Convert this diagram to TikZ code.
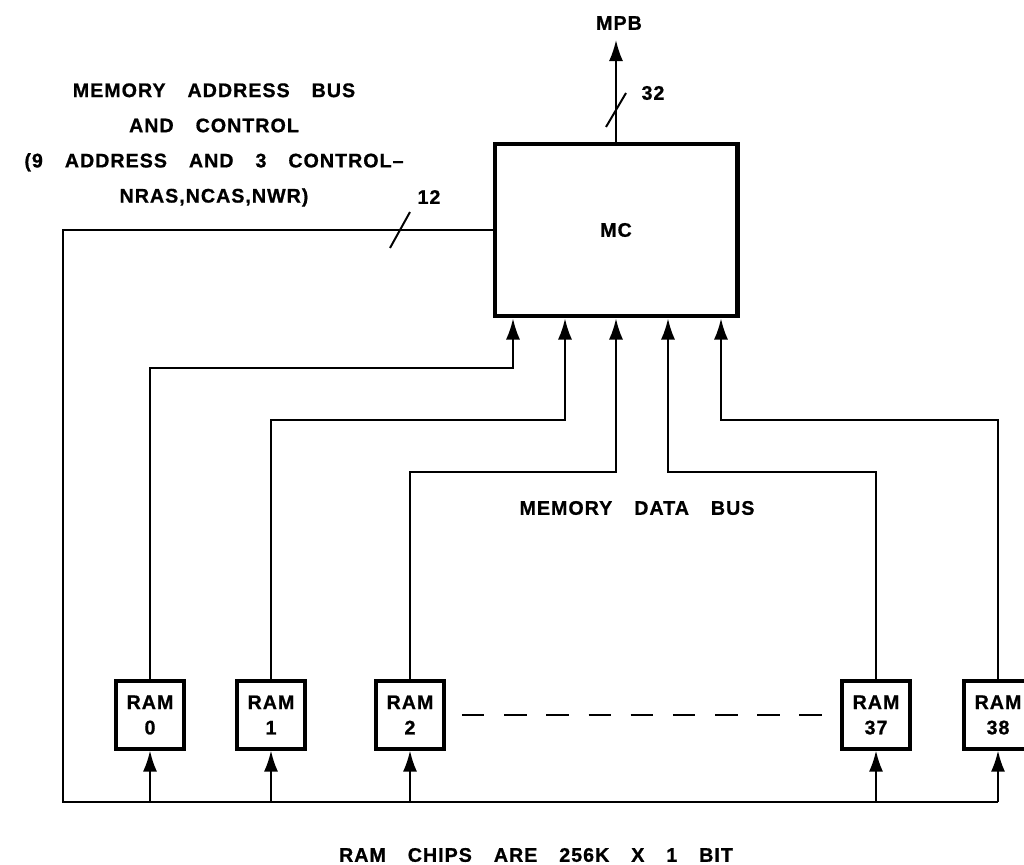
\documentclass[tikz,border=0pt]{standalone}
\usepackage{fontspec}
\setmainfont{Liberation Sans}[WordSpace=3.4,LetterSpace=5,BoldFeatures={FakeBold=0.8}]
\usetikzlibrary{arrows.meta}

\tikzset{
  lbl/.style={font=\fontsize{14}{25}\selectfont\bfseries, inner sep=0pt, align=center},
  mcbox/.style={draw, line width=3.5pt, minimum width=6.05cm, minimum height=4.3cm,
    font=\fontsize{14}{18}\selectfont\bfseries},
  rambox/.style={draw, line width=2.8pt, minimum width=1.7cm, minimum height=1.68cm,
    inner sep=0pt, align=center, font=\fontsize{14}{18}\selectfont\bfseries},
  wire/.style={line width=1.4pt},
  arr/.style={-{Latex[length=15pt,width=10pt]}},
}

\begin{document}
\begin{tikzpicture}[x=0.025cm, y=-0.025cm]
\useasboundingbox (0,0) rectangle (1024,865);

% --- CONTROLLER ---
\node[mcbox] (mc) at (616,230) {MC};

% --- RAM CHIPS ---
\foreach \ram/\lab/\cx in {ram0/0/150, ram1/1/271, ram2/2/410, ram37/37/876, ram38/38/998} {
  \node[rambox] (\ram) at (\cx,715) {RAM\\\lab};
}
\draw[wire, dash pattern=on 16pt off 14pt] (ram2.east) ++(16,0) -- ([xshift=-0.4cm]ram37.west);

% --- ADDRESS BUS ---
\coordinate (busL) at (63,802);
\coordinate (busR) at (ram38 |- busL);
\draw[wire] (mc.west) -- (busL |- mc.west) -- (busL) -- (busR);
\foreach \ram in {ram0, ram1, ram2, ram37, ram38} {
  \draw[wire, arr] (\ram |- busL) -- (\ram.south);
}
\coordinate (slA) at (400,230);
\draw[wire] ([shift={(10,-18)}]slA) -- ([shift={(-10,18)}]slA);
\node[lbl] (n12) at (429,197) {12};
\node[lbl] (addr) at (214,145) {MEMORY ADDRESS BUS\\AND CONTROL\\(9 ADDRESS AND 3 CONTROL–\\NRAS,NCAS,NWR)};

% --- DATA BUS ---
\foreach \ram/\px/\py in {ram0/513/368, ram1/565/420, ram2/616/472, ram37/668/472, ram38/721/420} {
  \coordinate (bend) at (\px,\py);
  \draw[wire, arr] (\ram.north) |- (bend) -- (bend |- mc.south);
}
\node[lbl] (data) at (637,508) {MEMORY DATA BUS};

% --- MPB ---
\node[lbl] (mpb) at (619,23) {MPB};
\coordinate (mpbtip) at (616,40);
\draw[wire, arr] (mc.north) -- (mpbtip);
\coordinate (slB) at (616,110);
\draw[wire] ([shift={(10,-17)}]slB) -- ([shift={(-10,17)}]slB);
\node[lbl] (n32) at (653,93) {32};

% --- NOTE ---
\node[lbl] (note) at (536,855) {RAM CHIPS ARE 256K X 1 BIT};

\end{tikzpicture}
\end{document}
